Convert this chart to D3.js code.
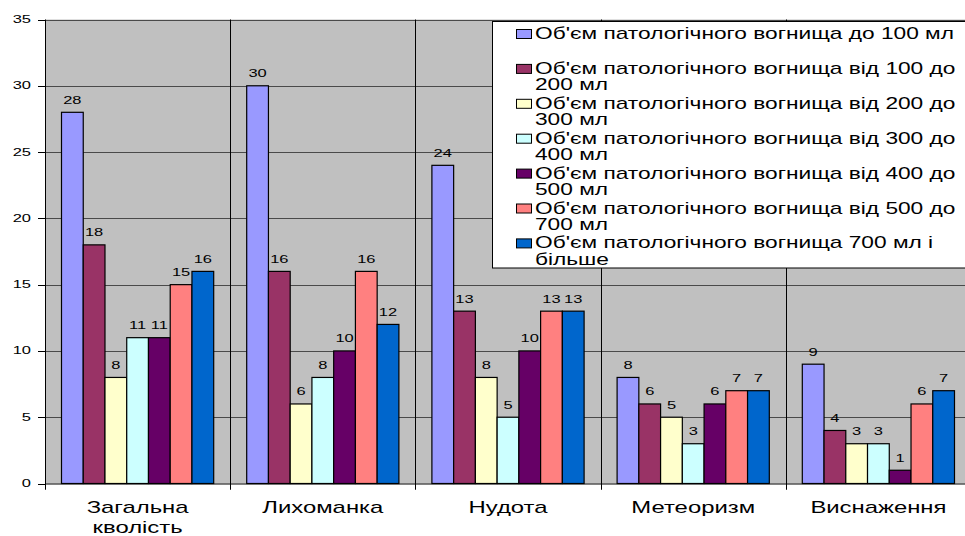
<!DOCTYPE html>
<html>
<head>
<meta charset="utf-8">
<script src="https://cdn.jsdelivr.net/npm/d3@7"></script>
<style>
  html, body { margin: 0; padding: 0; background: #fff; }
  svg { display: block; }
  text { font-family: "Liberation Sans", Arial, sans-serif; fill: #000; }
</style>
</head>
<body>
<svg id="chart" width="965" height="536"></svg>
<script>
// Categories (symptoms) and multi-line axis labels
const categories = ["Загальна кволість", "Лихоманка", "Нудота", "Метеоризм", "Виснаження"];
const categoryLines = [["Загальна", "кволість"], ["Лихоманка"], ["Нудота"], ["Метеоризм"], ["Виснаження"]];

// Series: volume of the pathological focus
const seriesNames = [
  "Об'єм патологічного вогнища до 100 мл",
  "Об'єм патологічного вогнища від 100 до 200 мл",
  "Об'єм патологічного вогнища від 200 до 300 мл",
  "Об'єм патологічного вогнища від 300 до 400 мл",
  "Об'єм патологічного вогнища від 400 до 500 мл",
  "Об'єм патологічного вогнища від 500 до 700 мл",
  "Об'єм патологічного вогнища 700 мл і більше"
];
const legendLines = [
  ["Об'єм патологічного вогнища до 100 мл", ""],
  ["Об'єм патологічного вогнища від 100 до", "200 мл"],
  ["Об'єм патологічного вогнища від 200 до", "300 мл"],
  ["Об'єм патологічного вогнища від 300 до", "400 мл"],
  ["Об'єм патологічного вогнища від 400 до", "500 мл"],
  ["Об'єм патологічного вогнища від 500 до", "700 мл"],
  ["Об'єм патологічного вогнища 700 мл і", "більше"]
];
const seriesColors = ["#9999FF", "#993366", "#FFFFCC", "#CCFFFF", "#660066", "#FF8080", "#0066CC"];

// Values per series, in category order
const upTo100   = [28, 30, 24, 8, 9];
const from100   = [18, 16, 13, 6, 4];
const from200   = [8, 6, 8, 5, 3];
const from300   = [11, 8, 5, 3, 3];
const from400   = [11, 10, 10, 6, 1];
const from500   = [15, 16, 13, 7, 6];
const over700   = [16, 12, 13, 7, 7];
const seriesValues = [upTo100, from100, from200, from300, from400, from500, over700];

const yTicks = [0, 5, 10, 15, 20, 25, 30, 35];

// Horizontal text stretch used throughout
const SX = 1.42;

const svg = d3.select("#chart");
const plot = { left: 45, right: 971, top: 19.5, bottom: 483.5 };

const x0 = d3.scaleBand().domain(categories).range([plot.left, plot.right]).padding(0);
const x1 = d3.scaleBand().domain(d3.range(seriesNames.length))
  .range([16.5, x0.bandwidth() - 16.5]).padding(0);
const y = d3.scaleLinear().domain([0, 35]).range([plot.bottom, plot.top]);

// Plot background
svg.append("rect")
  .attr("x", plot.left).attr("y", plot.top)
  .attr("width", plot.right - plot.left).attr("height", plot.bottom - plot.top)
  .attr("fill", "#C0C0C0");

// Horizontal gridlines
svg.append("g").selectAll("line").data(yTicks.filter(d => d > 0)).join("line")
  .attr("x1", plot.left).attr("x2", plot.right)
  .attr("y1", d => Math.round(y(d)) + 0.5).attr("y2", d => Math.round(y(d)) + 0.5)
  .attr("stroke", "#4a4a4a").attr("stroke-width", 1);

// Vertical separators between categories
svg.append("g").selectAll("line").data(categories.slice(1)).join("line")
  .attr("x1", d => Math.round(x0(d)) + 0.5).attr("x2", d => Math.round(x0(d)) + 0.5)
  .attr("y1", plot.top).attr("y2", plot.bottom + 6)
  .attr("stroke", "#000").attr("stroke-width", 1);

// Y axis
const yAxis = svg.append("g");
yAxis.append("line")
  .attr("x1", plot.left + 0.5).attr("x2", plot.left + 0.5)
  .attr("y1", plot.top).attr("y2", plot.bottom + 6)
  .attr("stroke", "#000");
yAxis.selectAll(".tick").data(yTicks).join("line")
  .attr("x1", plot.left - 7).attr("x2", plot.left)
  .attr("y1", d => Math.round(y(d)) + 0.5).attr("y2", d => Math.round(y(d)) + 0.5)
  .attr("stroke", "#000");
yAxis.selectAll("text").data(yTicks).join("text")
  .attr("transform", d => `translate(31,${y(d) + 3.5}) scale(${SX},1)`)
  .attr("text-anchor", "end")
  .attr("font-size", 11.6)
  .text(d => d);

// Bars
const groups = svg.append("g").selectAll("g").data(categories).join("g")
  .attr("transform", d => `translate(${x0(d)},0)`);
groups.selectAll("rect").data((c, ci) => seriesValues.map((s, si) => ({ si, v: s[ci] }))).join("rect")
  .attr("x", d => x1(d.si))
  .attr("y", d => y(d.v))
  .attr("width", x1.bandwidth())
  .attr("height", d => y(0) - y(d.v))
  .attr("fill", d => seriesColors[d.si])
  .attr("stroke", "#000").attr("stroke-width", 1.2);

// Value labels
groups.selectAll("text").data((c, ci) => seriesValues.map((s, si) => ({ si, v: s[ci] }))).join("text")
  .attr("transform", d => `translate(${x1(d.si) + x1.bandwidth() / 2},${y(d.v) - 8.5}) scale(${SX},1)`)
  .attr("text-anchor", "middle")
  .attr("font-size", 11.6)
  .text(d => d.v);

// Bottom axis line and ticks
svg.append("line")
  .attr("x1", plot.left).attr("x2", plot.right)
  .attr("y1", plot.bottom + 0.5).attr("y2", plot.bottom + 0.5)
  .attr("stroke", "#000");
svg.append("g").selectAll("line").data(categories).join("line")
  .attr("x1", d => Math.round(x0(d)) + 0.5).attr("x2", d => Math.round(x0(d)) + 0.5)
  .attr("y1", plot.bottom).attr("y2", plot.bottom + 6)
  .attr("stroke", "#000");

// Category labels
const catLabels = svg.append("g").selectAll("text").data(categories).join("text")
  .attr("transform", d => `translate(${x0(d) + x0.bandwidth() / 2},513) scale(${SX},1)`)
  .attr("text-anchor", "middle")
  .attr("font-size", 16.8);
catLabels.selectAll("tspan").data((d, i) => categoryLines[i]).join("tspan")
  .attr("x", 0).attr("dy", (d, i) => i === 0 ? 0 : 20.5)
  .text(d => d);

// Legend
const legend = svg.append("g");
legend.append("rect")
  .attr("x", 492.5).attr("y", 21.5).attr("width", 500).attr("height", 246.5)
  .attr("fill", "#fff").attr("stroke", "#000");
const items = legend.selectAll("g").data(seriesNames).join("g")
  .attr("transform", (d, i) => `translate(0,${39 + i * 34.9})`);
items.append("rect")
  .attr("x", 516.5).attr("y", -9.5).attr("width", 15).attr("height", 9)
  .attr("fill", (d, i) => seriesColors[i]).attr("stroke", "#000");
const lt = items.append("text")
  .attr("transform", `translate(535,0) scale(${SX},1)`)
  .attr("font-size", 16);
lt.selectAll("tspan").data((d, i) => legendLines[i]).join("tspan")
  .attr("x", 0).attr("dy", (d, i) => i === 0 ? 0 : 16.2)
  .text(d => d);
</script>
</body>
</html>
